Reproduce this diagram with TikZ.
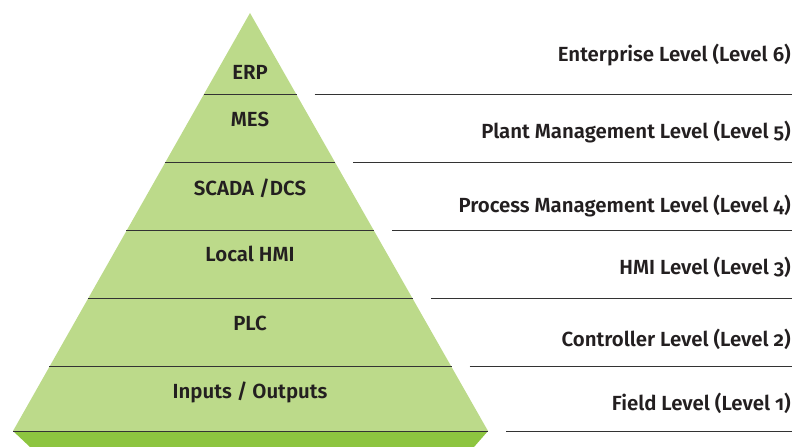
\documentclass[tikz,border=0pt]{standalone}
\usepackage{fontspec}
\setmainfont{Fira Sans}[RawFeature=+onum, BoldFont={Fira Sans SemiBold}, BoldFeatures={RawFeature=+onum}]
\usetikzlibrary{calc}
\definecolor{pyrlight}{HTML}{BCDA8A}
\definecolor{pyrdark}{HTML}{8DC540}
\definecolor{txt}{HTML}{231F20}
\definecolor{rule}{HTML}{333333}
\tikzset{
  lvl/.style={font=\fontsize{20.5}{24}\selectfont\bfseries, text=txt, inner sep=0pt},
  sep/.style={draw=rule, line width=1bp},
}
\begin{document}
\begin{tikzpicture}[x=1bp,y=-1bp]
\useasboundingbox (0,0) rectangle (796,447);
\coordinate (apex) at (250,13);
\coordinate (bl) at (13,431);
\coordinate (br) at (488,431);
\coordinate (dl) at (30,447);
\coordinate (dr) at (474,447);
\coordinate (rend) at (792,0);
% base band
\fill[pyrdark] (bl) -- (br) -- (dr) -- (dl) -- cycle;
% triangle
\fill[pyrlight] (apex) -- (br) -- (bl) -- cycle;
% dividers
\foreach \yy/\nm in {95/a,163/b,231/c,299/d,367/e,431/f}{
  \pgfmathsetmacro{\t}{(\yy-13)/418}
  \coordinate (L\nm) at ($(apex)!\t!(bl)$);
  \coordinate (R\nm) at ($(apex)!\t!(br)$);
  \coordinate (S\nm) at ($(R\nm)+(18,0)$);
  \coordinate (E\nm) at (rend |- R\nm);
  \draw[sep] (L\nm) -- (R\nm);
  \draw[sep] (S\nm) -- (E\nm);
}
% pyramid labels
\node[lvl, anchor=base] (erp) at (250,80) {ERP};
\node[lvl, anchor=base] (mes) at (250,127) {MES};
\node[lvl, anchor=base] (scada) at (250,195.5) {SCADA /DCS};
\node[lvl, anchor=base] (hmi) at (250,262) {Local HMI};
\node[lvl, anchor=base] (plc) at (250,331) {PLC};
\node[lvl, anchor=base] (io) at (250,398) {Inputs / Outputs};
% level labels
\node[lvl, anchor=base east] (l6) at (791,62) {Enterprise Level (Level 6)};
\node[lvl, anchor=base east] (l5) at (791,139) {Plant Management Level (Level 5)};
\node[lvl, anchor=base east] (l4) at (791,213) {Process Management Level (Level 4)};
\node[lvl, anchor=base east] (l3) at (791,275) {HMI Level (Level 3)};
\node[lvl, anchor=base east] (l2) at (791,347) {Controller Level (Level 2)};
\node[lvl, anchor=base east] (l1) at (791,410) {Field Level (Level 1)};
\end{tikzpicture}
\end{document}
